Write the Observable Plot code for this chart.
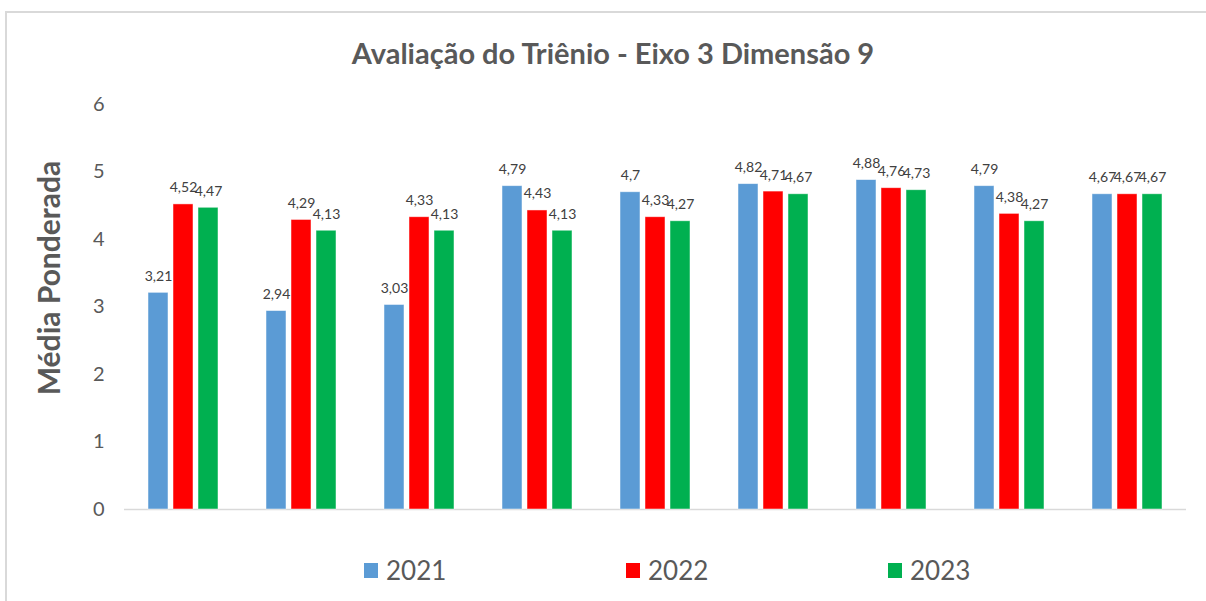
<!DOCTYPE html>
<html><head><meta charset="utf-8">
<script src="https://cdn.jsdelivr.net/npm/d3@7"></script>
<script src="https://cdn.jsdelivr.net/npm/@observablehq/plot@0.6"></script>
<style>
body{margin:0;background:#fff;font-family:Lato,"Open Sans",sans-serif;width:1206px;height:601px;overflow:hidden;position:relative;}
#frame{position:absolute;left:5px;top:11px;width:1300px;height:700px;border-left:2px solid #d9d9d9;border-top:2px solid #d9d9d9;}
#title{position:absolute;top:36px;left:0;width:1226px;text-align:center;font-weight:bold;font-size:29px;color:#595959;line-height:34px;}
#ylabel{position:absolute;left:48px;top:278px;transform:translate(-50%,-50%) rotate(-90deg);font-weight:bold;font-size:30px;color:#595959;white-space:nowrap;}
#chart{position:absolute;left:0;top:80px;}
.leg{position:absolute;top:554px;display:flex;align-items:center;font-size:26px;color:#595959;}
.leg span.sw{display:inline-block;width:14px;height:15px;margin-right:8px;}
.yax text{font-size:20px;fill:#595959;}
</style></head>
<body>
<div id="frame"></div>
<div id="title">Avaliação do Triênio - Eixo 3 Dimensão 9</div>
<div id="ylabel">Média Ponderada</div>
<div id="chart"></div>
<div id="legend"></div>
<script>
const groups = [1,2,3,4,5,6,7,8,9];
const years = ["2021","2022","2023"];
const colors = ["#5b9bd5","#ff0000","#00b050"];
const v2021 = [3.21,2.94,3.03,4.79,4.70,4.82,4.88,4.79,4.67];
const v2022 = [4.52,4.29,4.33,4.43,4.33,4.71,4.76,4.38,4.67];
const v2023 = [4.47,4.13,4.13,4.13,4.27,4.67,4.73,4.27,4.67];
const yTicks = [0,1,2,3,4,5,6];

const series = [v2021, v2022, v2023];
const data = [];
groups.forEach((g, i) => years.forEach((y, j) => data.push({group: g, year: y, value: series[j][i]})));

const fmt = v => String(v).replace(".", ",");

const chart = Plot.plot({
  width: 1206,
  height: 450,
  marginLeft: 122,
  marginRight: 18,
  marginTop: 24,
  marginBottom: 21,
  style: {fontFamily: "Lato, 'Open Sans', sans-serif", background: "transparent"},
  fx: {domain: groups, axis: null, paddingInner: 0, paddingOuter: 0},
  x: {domain: years, axis: null, paddingInner: 0.19, paddingOuter: 0.87},
  y: {domain: [0, 6], axis: null},
  color: {domain: years, range: colors},
  marks: [
    Plot.axisY({ticks: yTicks, tickSize: 0, tickPadding: 20, label: null, className: "yax", tickFormat: d => d, facetAnchor: "left"}),
    Plot.ruleY([0], {stroke: "#d9d9d9", strokeWidth: 1.5}),
    Plot.barY(data, {fx: "group", x: "year", y: "value", fill: "year", stroke: "#ffffff", strokeOpacity: 0.6, strokeWidth: 0.8}),
    Plot.text(data, {fx: "group", x: "year", y: "value", text: d => fmt(d.value), dy: -12, lineAnchor: "bottom", fontSize: 14, fill: "#404040"})
  ]
});
document.getElementById("chart").appendChild(chart);

const leg = document.getElementById("legend");
years.forEach((y, i) => {
  const d = document.createElement("div");
  d.className = "leg";
  d.style.left = (364 + i * 262) + "px";
  d.innerHTML = `<span class="sw" style="background:${colors[i]}"></span>${y}`;
  leg.appendChild(d);
});
</script>
</body></html>
